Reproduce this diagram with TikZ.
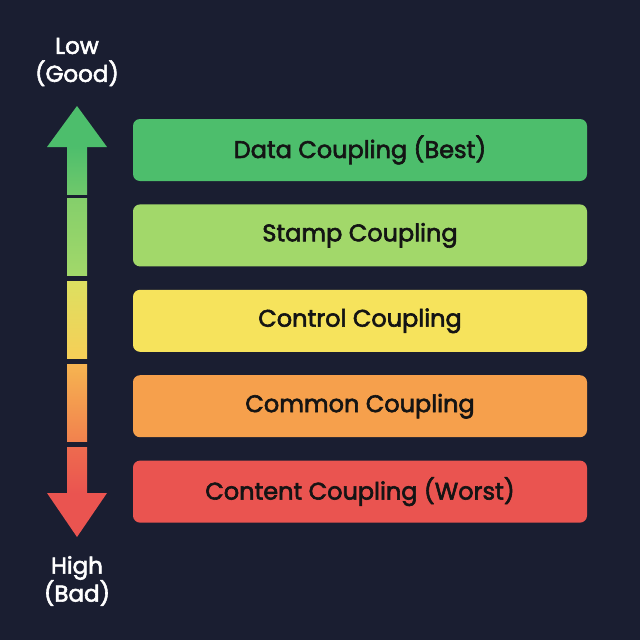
\documentclass[tikz,border=0pt]{standalone}
\usepackage{fontspec}
\setmainfont{Poppins}
\newfontfamily\poppinsmedium{Poppins}[FakeBold=2.5]
\usetikzlibrary{positioning}
\definecolor{bgnavy}{HTML}{1A1E31}
\definecolor{cgreen}{HTML}{4DBE6C}
\definecolor{clime}{HTML}{A2D86A}
\definecolor{cyellow}{HTML}{F6E35C}
\definecolor{corange}{HTML}{F6A04C}
\definecolor{cred}{HTML}{EA5450}
\begin{document}
\begin{tikzpicture}[x=1pt,y=-1pt]
	\tikzstyle{level} = [rounded corners=7pt, minimum width=454pt, minimum height=62pt, font=\poppinsmedium\fontsize{24}{27}\selectfont, text=black!92]
	\tikzstyle{scaletext} = [text=white, align=center, font=\poppinsmedium\fontsize{23}{28}\selectfont]
	\fill[bgnavy] (0,0) rectangle (640,640);
	\useasboundingbox (0,0) rectangle (640,640);

	\node[level, fill=cgreen] (Data) at (360,150) {Data Coupling (Best)};
	\node[level, fill=clime, below=23pt of Data] (Stamp) {Stamp Coupling};
	\node[level, fill=cyellow, below=23pt of Stamp] (Control) {Control Coupling};
	\node[level, fill=corange, below=23pt of Control] (Common) {Common Coupling};
	\node[level, fill=cred, below=23pt of Common] (Content) {Content Coupling (Worst)};

	% scale arrow
	\fill[cgreen] (77,106) -- (107,147) -- (47,147) -- cycle;
	\shade[top color=cgreen, bottom color=cgreen!60!clime] (67,146) rectangle (87,194);
	\shade[top color=cgreen!35!clime, bottom color=clime] (67,198) rectangle (87,275);
	\shade[top color=clime!30!cyellow, bottom color=cyellow!70!corange] (67,281) rectangle (87,358);
	\shade[top color=corange!70!cyellow, bottom color=corange!60!cred] (67,364) rectangle (87,441);
	\shade[top color=corange!30!cred, bottom color=cred] (67,447) rectangle (87,494);
	\fill[cred] (77,537) -- (107,493) -- (47,493) -- cycle;

	\node[scaletext] (Low) at (77,62) {Low\\(Good)};
	\node[scaletext] (High) at (77,581) {High\\(Bad)};
\end{tikzpicture}
\end{document}
